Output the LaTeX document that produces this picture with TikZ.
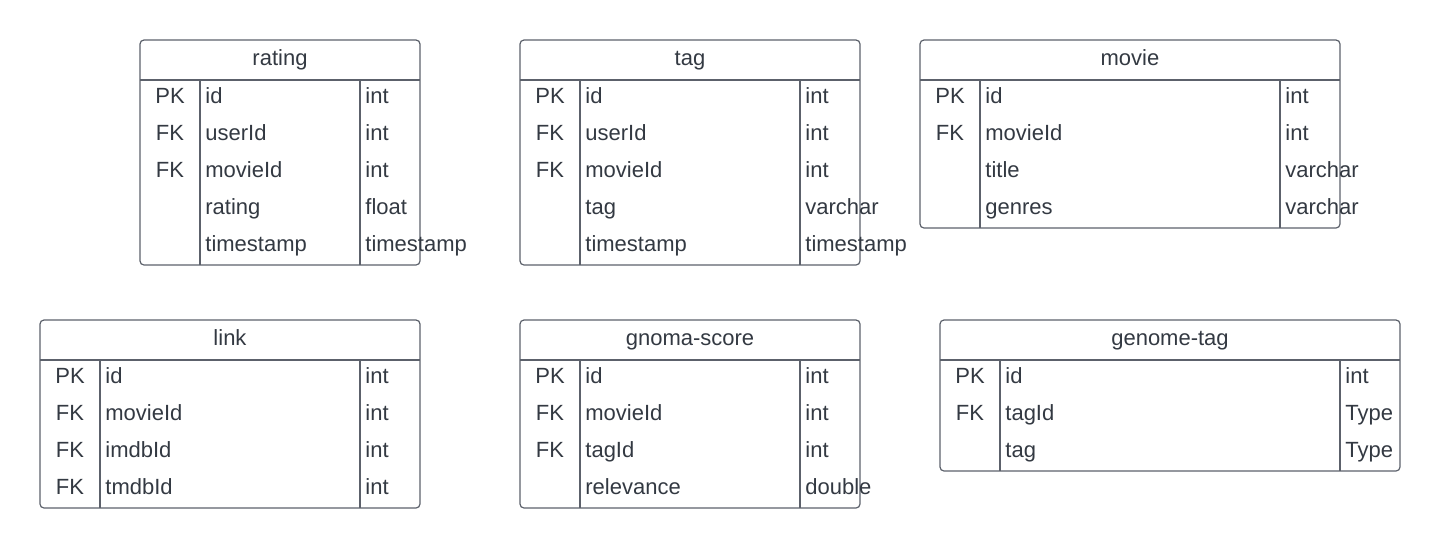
\documentclass[tikz,border=0pt]{standalone}
\usepackage{fontspec}
\setmainfont{Liberation Sans}
\usepackage{tikz}
\definecolor{inkc}{HTML}{333942}
\definecolor{edgec}{HTML}{5C616B}
\tikzset{tbl/.style={draw=edgec,line width=0.6pt,rounded corners=2pt},
	sep/.style={draw=edgec,line width=0.6pt},
	cell/.style={inner sep=0pt,text=inkc,font=\fontsize{11}{13}\selectfont},
	ttl/.style={cell,anchor=mid},
	keyc/.style={cell,anchor=mid},
	fld/.style={cell,anchor=mid west}}

\begin{document}
\begin{tikzpicture}[x=0.5pt,y=-0.5pt]
		\useasboundingbox (0,0) rectangle (1440,548);
		% rating
		\draw[tbl] (140,40) rectangle (420,265);
		\draw[sep] (140,80) -- (420,80) (200,80) -- (200,265) (360,80) -- (360,265);
		\node[ttl] (rating) at (280,60) {rating};
		\foreach \k/\f/\t [count=\i] in {PK/id/int,FK/userId/int,FK/movieId/int,{}/rating/float,{}/timestamp/timestamp}{
			\node[keyc] (rating-k\i) at (170,{80+37*(\i-0.5)}) {\k};
			\node[fld] (rating-f\i) at (205,{80+37*(\i-0.5)}) {\f};
			\node[fld] (rating-t\i) at (365,{80+37*(\i-0.5)}) {\t};}
		% tag
		\draw[tbl] (520,40) rectangle (860,265);
		\draw[sep] (520,80) -- (860,80) (580,80) -- (580,265) (800,80) -- (800,265);
		\node[ttl] (tag) at (690,60) {tag};
		\foreach \k/\f/\t [count=\i] in {PK/id/int,FK/userId/int,FK/movieId/int,{}/tag/varchar,{}/timestamp/timestamp}{
			\node[keyc] (tag-k\i) at (550,{80+37*(\i-0.5)}) {\k};
			\node[fld] (tag-f\i) at (585,{80+37*(\i-0.5)}) {\f};
			\node[fld] (tag-t\i) at (805,{80+37*(\i-0.5)}) {\t};}
		% movie
		\draw[tbl] (920,40) rectangle (1340,228);
		\draw[sep] (920,80) -- (1340,80) (980,80) -- (980,228) (1280,80) -- (1280,228);
		\node[ttl] (movie) at (1130,60) {movie};
		\foreach \k/\f/\t [count=\i] in {PK/id/int,FK/movieId/int,{}/title/varchar,{}/genres/varchar}{
			\node[keyc] (movie-k\i) at (950,{80+37*(\i-0.5)}) {\k};
			\node[fld] (movie-f\i) at (985,{80+37*(\i-0.5)}) {\f};
			\node[fld] (movie-t\i) at (1285,{80+37*(\i-0.5)}) {\t};}
		% link
		\draw[tbl] (40,320) rectangle (420,508);
		\draw[sep] (40,360) -- (420,360) (100,360) -- (100,508) (360,360) -- (360,508);
		\node[ttl] (link) at (230,340) {link};
		\foreach \k/\f/\t [count=\i] in {PK/id/int,FK/movieId/int,FK/imdbId/int,FK/tmdbId/int}{
			\node[keyc] (link-k\i) at (70,{360+37*(\i-0.5)}) {\k};
			\node[fld] (link-f\i) at (105,{360+37*(\i-0.5)}) {\f};
			\node[fld] (link-t\i) at (365,{360+37*(\i-0.5)}) {\t};}
		% gnoma-score
		\draw[tbl] (520,320) rectangle (860,508);
		\draw[sep] (520,360) -- (860,360) (580,360) -- (580,508) (800,360) -- (800,508);
		\node[ttl] (score) at (690,340) {gnoma-score};
		\foreach \k/\f/\t [count=\i] in {PK/id/int,FK/movieId/int,FK/tagId/int,{}/relevance/double}{
			\node[keyc] (score-k\i) at (550,{360+37*(\i-0.5)}) {\k};
			\node[fld] (score-f\i) at (585,{360+37*(\i-0.5)}) {\f};
			\node[fld] (score-t\i) at (805,{360+37*(\i-0.5)}) {\t};}
		% genome-tag
		\draw[tbl] (940,320) rectangle (1400,471);
		\draw[sep] (940,360) -- (1400,360) (1000,360) -- (1000,471) (1340,360) -- (1340,471);
		\node[ttl] (gtag) at (1170,340) {genome-tag};
		\foreach \k/\f/\t [count=\i] in {PK/id/int,FK/tagId/Type,{}/tag/Type}{
			\node[keyc] (gtag-k\i) at (970,{360+37*(\i-0.5)}) {\k};
			\node[fld] (gtag-f\i) at (1005,{360+37*(\i-0.5)}) {\f};
			\node[fld] (gtag-t\i) at (1345,{360+37*(\i-0.5)}) {\t};}
\end{tikzpicture}
\end{document}
